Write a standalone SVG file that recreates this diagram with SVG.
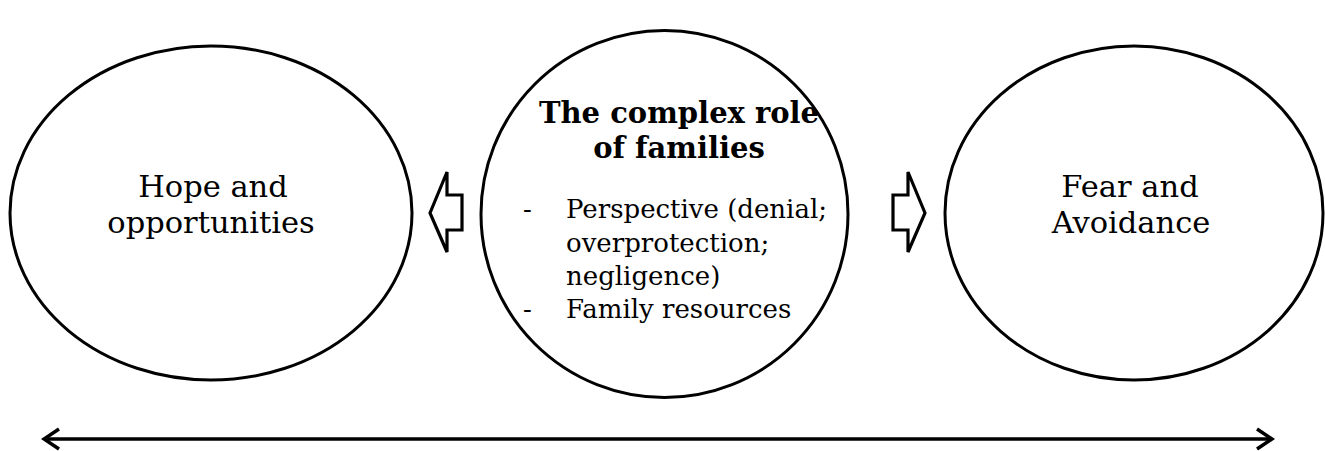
<svg xmlns="http://www.w3.org/2000/svg" width="1325" height="451" viewBox="0 0 1325 451">
  <style>
    .shape { fill: #ffffff; stroke: #000000; stroke-width: 3; }
    .hollow { fill: #ffffff; stroke: #000000; stroke-width: 3.2; stroke-linejoin: miter; }
    .label { font-family: "DejaVu Serif", "Liberation Serif", serif; font-size: 30.5px; fill: #000000; text-anchor: middle; }
    .title { font-family: "DejaVu Serif", "Liberation Serif", serif; font-size: 29px; font-weight: bold; fill: #000000; text-anchor: middle; }
    .item { font-family: "DejaVu Serif", "Liberation Serif", serif; font-size: 26px; fill: #000000; }
    .axis { fill: none; stroke: #000000; stroke-width: 3.5; }
  </style>
  <defs>
    <marker id="chevron" viewBox="0 0 20 24" refX="17" refY="12" markerWidth="20" markerHeight="24" markerUnits="userSpaceOnUse" orient="auto-start-reverse">
      <path d="M2,2 L17,12 L2,22" fill="none" stroke="#000000" stroke-width="3.5" stroke-linejoin="miter"/>
    </marker>
  </defs>

  <rect width="1325" height="451" fill="#ffffff"/>

  <!-- left node -->
  <g id="hope">
    <ellipse class="shape" cx="211" cy="213" rx="201" ry="167"/>
    <text class="label" x="213" y="197">Hope and</text>
    <text class="label" x="211" y="233">opportunities</text>
  </g>

  <!-- central node -->
  <g id="families">
    <circle class="shape" cx="664.5" cy="214" r="183.5"/>
    <text class="title" x="679" y="123">The complex role</text>
    <text class="title" x="679" y="158">of families</text>
    <text class="item" x="523" y="218">-</text>
    <text class="item" x="566" y="218">Perspective (denial;</text>
    <text class="item" x="566" y="252">overprotection;</text>
    <text class="item" x="566" y="285">negligence)</text>
    <text class="item" x="523" y="318">-</text>
    <text class="item" x="566" y="318">Family resources</text>
  </g>

  <!-- right node -->
  <g id="fear">
    <ellipse class="shape" cx="1134" cy="213" rx="189" ry="167"/>
    <text class="label" x="1130" y="197">Fear and</text>
    <text class="label" x="1131" y="233">Avoidance</text>
  </g>

  <!-- connectors -->
  <g id="connectors">
    <path class="hollow" d="M430,213 L447,172 L447,195 L462,195 L462,230 L447,230 L447,252 Z"/>
    <path class="hollow" d="M925,213 L908,172 L908,195 L893,195 L893,230 L908,230 L908,252 Z"/>
    <line class="axis" x1="44" y1="439" x2="1272" y2="439" marker-start="url(#chevron)" marker-end="url(#chevron)"/>
  </g>
</svg>
